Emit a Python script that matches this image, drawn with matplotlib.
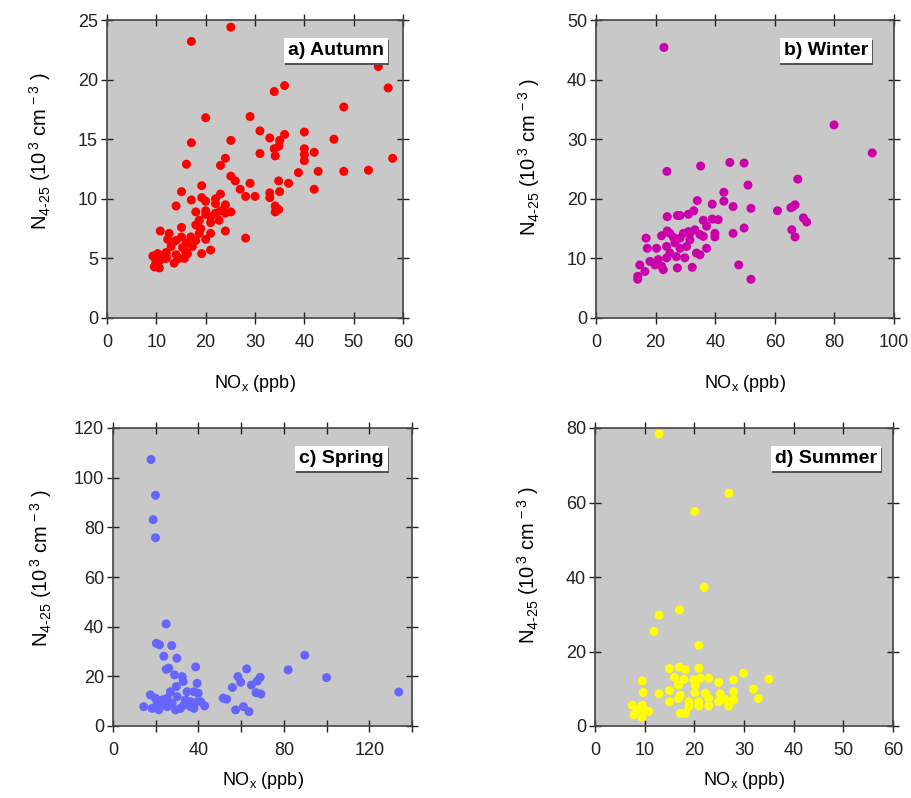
import numpy as np
import matplotlib
matplotlib.use("Agg")
import matplotlib.pyplot as plt
from matplotlib import patheffects

plt.rcParams['font.family'] = ['Liberation Sans', 'DejaVu Sans']
plt.rcParams['mathtext.fontset'] = 'custom'
plt.rcParams['mathtext.rm'] = 'Liberation Sans'
plt.rcParams['mathtext.it'] = 'Liberation Sans'
plt.rcParams['mathtext.default'] = 'regular'

# a) Autumn
autumn_nox = [25.1, 17.1, 36, 33.9, 55, 57, 48, 20, 29, 31, 33, 36, 35, 40, 46, 17.1, 25.1,
              34.8, 33.9, 34.1, 31, 40, 40, 40, 42, 57.9, 24, 23, 16.1, 38.8, 42.8, 48, 53,
              25.1, 26, 29, 34.8, 36.8, 27, 28.1, 30, 33, 33, 35, 42, 19.2, 15.1, 17.1, 19.2,
              20, 14, 22, 23, 18, 34.1, 34.8, 34.1, 25.1, 24, 22, 22.7, 20, 18.7, 21, 18,
              24, 28.1, 10.8, 12.6, 12.3, 15.1, 15.1, 17, 18.7, 20, 21, 16.1, 17.3, 15.3,
              16.3, 19.2, 21, 14, 14.6, 13.6, 15.7, 9.3, 10.3, 11.3, 12, 9.9, 10.6, 9.6, 9.9,
              11, 12, 16, 18, 19, 21, 23, 24, 20, 22, 13, 12, 14]
autumn_n = [24.4, 23.2, 19.5, 19.0, 21.1, 19.3, 17.7, 16.8, 16.9, 15.7, 15.1, 15.4, 14.9, 15.6,
            15.0, 14.7, 14.9, 14.4, 14.2, 13.6, 13.8, 14.2, 13.7, 13.2, 13.9, 13.4, 13.4, 12.8,
            12.9, 12.2, 12.3, 12.3, 12.4, 11.9, 11.5, 11.3, 11.5, 11.3, 10.8, 10.2, 10.2, 10.5,
            10.1, 10.6, 10.8, 11.1, 10.6, 9.9, 10.1, 9.8, 9.4, 9.6, 10.4, 8.9, 9.4, 9.1, 8.9,
            8.9, 8.8, 8.8, 8.2, 8.7, 8.2, 8.0, 7.8, 7.3, 6.7, 7.3, 7.1, 6.6, 7.6, 6.8, 6.8,
            7.1, 6.6, 7.1, 6.3, 6.0, 5.9, 5.4, 5.4, 5.7, 5.3, 5.0, 4.6, 5.0, 5.2, 5.4, 5.2,
            5.0, 4.6, 4.2, 4.3, 4.9, 4.9, 5.2, 5.5, 6.5, 7.5, 8.5, 9.0, 9.5, 9.0, 10.0, 6.0,
            5.5, 6.5]

# b) Winter
winter_nox = [22.8, 79.9, 92.7, 23.8, 35.1, 44.9, 49.7, 67.7, 51, 42.9, 42.9, 34, 39, 46, 52,
              60.9, 66.1, 66.8, 65.4, 69.6, 70.7, 65.7, 66.8, 23.9, 27.3, 28.2, 31, 32.8, 36,
              39, 41, 37.1, 39.9, 39.9, 46, 49.7, 47.9, 52, 16.8, 22, 23.9, 26, 28.2, 31, 33.2,
              34.9, 36, 31.5, 37.1, 34.9, 33.7, 17.2, 20.3, 23.7, 26.5, 28.2, 30.4, 27, 29.8,
              23.7, 20.9, 18.1, 14.7, 16.4, 14, 14, 22, 22.6, 27.3, 32.3, 19.8, 24.8, 31.5,
              29.3, 24.8]
winter_n = [45.4, 32.4, 27.7, 24.6, 25.5, 26.1, 26.0, 23.3, 22.3, 21.1, 19.6, 19.7, 19.1, 18.7,
            18.4, 18.0, 18.7, 19.0, 18.5, 16.8, 16.1, 14.8, 13.6, 17.0, 17.2, 17.2, 17.4, 18.0,
            16.4, 16.6, 16.5, 15.4, 14.2, 13.6, 14.2, 15.1, 8.9, 6.5, 13.4, 13.8, 14.6, 13.5,
            13.4, 14.5, 14.8, 14.0, 13.7, 13.1, 11.7, 10.6, 10.9, 11.7, 11.7, 12.0, 12.6,
            11.7, 12.0, 10.3, 10.1, 10.1, 9.8, 9.5, 8.9, 7.8, 7.0, 6.5, 8.7, 8.1, 8.4, 8.5,
            8.9, 10.9, 14.2, 14.2, 14.2]

# c) Spring
spring_nox = [17.8, 19.9, 18.8, 19.9, 24.9, 20.3, 21.8, 27.5, 23.8, 29.9, 24.9, 26.1, 38.7,
              28.8, 32.4, 32.9, 39.4, 29.7, 26.9, 34.7, 37.9, 39.9, 17.5, 19.9, 23, 25.4, 30,
              33.9, 36.3, 39.4, 14.4, 18.3, 21.4, 25.4, 29.3, 33.2, 37.9, 42.9, 20.7, 23.8,
              27.7, 31.6, 36.3, 41, 51.6, 53.2, 55.9, 58.5, 59.8, 62.6, 64.8, 68.9, 67.6, 67,
              69.2, 57.4, 61.1, 63.7, 82, 89.8, 100, 133.8]
spring_n = [107.3, 92.9, 83.1, 75.8, 41.1, 33.3, 32.7, 32.4, 28.1, 27.3, 22.8, 23.3, 23.8, 20.6,
            19.9, 17.9, 17.2, 15.9, 13.8, 13.8, 13.8, 13.2, 12.5, 11.2, 10.5, 11.2, 11.8, 10.5,
            9.8, 9.8, 7.8, 7.1, 6.5, 7.8, 6.5, 8.5, 7.1, 8.1, 9.1, 8.5, 9.1, 7.1, 7.8, 9.8,
            11.2, 10.8, 15.5, 19.9, 17.6, 23.0, 16.5, 19.6, 18.1, 13.4, 12.9, 6.5, 7.8, 5.8,
            22.6, 28.5, 19.5, 13.7]

# d) Summer
summer_nox = [12.9, 27, 20.1, 22, 17, 12.9, 11.9, 20.9, 15, 17, 18.2, 20.9, 29.9, 35, 9.5, 16,
              17.9, 19.9, 21.2, 22.9, 24.9, 27.9, 16.8, 20.2, 9.7, 12.9, 15, 17.2, 20.1, 22.2,
              25.2, 27.9, 31.9, 32.9, 15, 16.8, 18.9, 20.9, 22.9, 24.9, 26.2, 27.9, 26.9, 22.9,
              20.9, 18.9, 17.2, 18.2, 7.5, 8.5, 9.5, 10.8, 7.8, 9.5, 10.1]
summer_n = [78.4, 62.5, 57.6, 37.2, 31.2, 29.8, 25.4, 21.6, 15.4, 15.8, 15.1, 15.5, 14.2, 12.6,
            12.1, 13.1, 12.5, 12.4, 12.8, 12.8, 11.7, 12.4, 11.0, 11.0, 9.0, 8.6, 9.5, 8.3,
            9.0, 8.8, 8.6, 9.2, 9.9, 7.4, 6.5, 7.4, 6.5, 6.5, 7.4, 6.5, 7.2, 7.0, 5.4, 5.4,
            5.4, 5.2, 3.4, 3.4, 5.6, 4.3, 5.6, 3.9, 3.0, 2.3, 4.3]

panels = [
    # x, y, color, title, xlim, xstep, xlabel step, ylim, ystep, axes rect (px),
    # box offset, xlabelpad, ylabelpad, ylabel position
    (autumn_nox, autumn_n, '#ff0000', 'a) Autumn', 60, 10, 10, 25, 5, (107, 20, 403, 318), 19, 16, 18, 0.56),
    (winter_nox, winter_n, '#cc00aa', 'b) Winter', 100, 20, 20, 50, 10, (596, 20, 894, 318), 26, 16, 18, 0.54),
    (spring_nox, spring_n, '#6666ff', 'c) Spring', 140, 20, 40, 120, 20, (113, 428, 412, 726), 28, 8, 14, 0.53),
    (summer_nox, summer_n, '#ffff00', 'd) Summer', 60, 10, 10, 80, 20, (595, 428, 893, 726), 16, 8, 18, 0.54),
]

W, H = 911, 798
fig = plt.figure(figsize=(W / 100, H / 100), dpi=100)

for x, y, col, title, xmax, xstep, xlstep, ymax, ystep, (l, t, r, b), off, xpad, ypad, ypos in panels:
    ax = fig.add_axes([l / W, 1 - b / H, (r - l) / W, (b - t) / H])
    ax.set_facecolor('#c8c8c8')
    ax.scatter(x, y, s=42, color=col, edgecolors='none', zorder=3)
    ax.set_xlim(0, xmax)
    ax.set_ylim(0, ymax)
    xt = np.arange(0, xmax + 1, xstep)
    ax.set_xticks(xt)
    ax.set_xticklabels([str(v) if v % xlstep == 0 else '' for v in xt])
    ax.set_yticks(np.arange(0, ymax + 1, ystep))
    ax.tick_params(direction='inout', length=9, width=1, top=True, right=True,
                   labelsize=13, colors='#222222')
    ax.tick_params(axis='x', pad=7)
    ax.tick_params(axis='y', pad=2)
    for s in ax.spines.values():
        s.set_linewidth(1.2)
        s.set_color('#444444')
    ax.set_xlabel('NO$_x$ (ppb)', fontsize=13, labelpad=xpad)
    ax.set_ylabel('N$_{4\u201025}$ (10$^{\\,3}$ cm$^{\\,-3}$ )', fontsize=14.5,
                  labelpad=ypad, y=ypos)
    # label box with a dark shadow along its lower edge
    txt = ax.annotate(title, xy=(1, 1), xycoords='axes fraction', xytext=(-off, -22),
                      textcoords='offset pixels', ha='right', va='top', fontsize=14,
                      fontweight='bold', color='black',
                      bbox=dict(facecolor='white', edgecolor='none', pad=3), zorder=5)
    txt.get_bbox_patch().set_path_effects([
        patheffects.SimplePatchShadow(offset=(0.5, -1.5), shadow_rgbFace='#555555', alpha=1),
        patheffects.Normal()])

fig.savefig('out.png', dpi=100)
